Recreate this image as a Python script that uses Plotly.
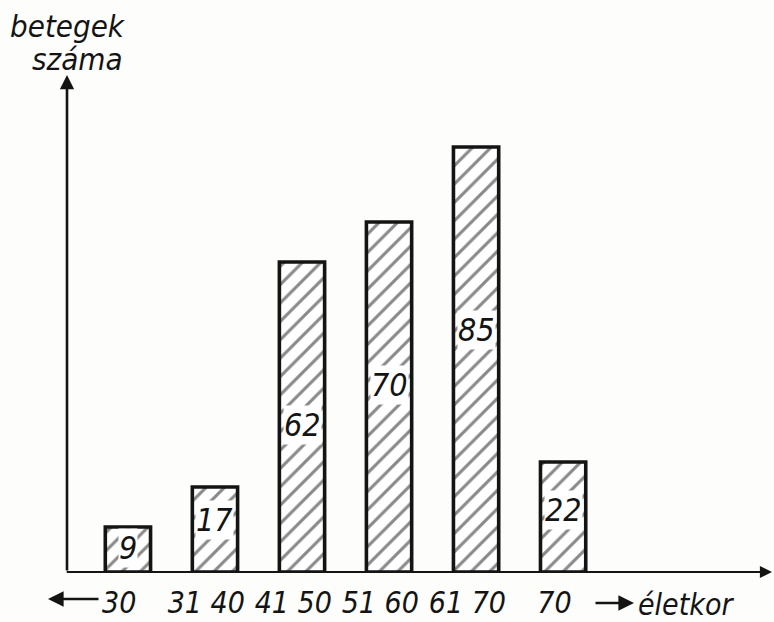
import numpy as np
import plotly.graph_objects as go

# ---- data ----
age_groups = ["-30", "31-40", "41-50", "51-60", "61-70", "70-"]
tick_labels = ["30", "31 40", "41 50", "51 60", "61 70", "70"]
patients = [9, 17, 62, 70, 85, 22]
label_heights = [4.8, 10.4, 29.4, 37.4, 48.4, 12.4]  # where the number sits inside each bar

FONT = "DejaVu Sans Condensed, Liberation Sans Narrow, DejaVu Sans, sans-serif"
INK = "#141414"
PAPER = "#fdfdfb"

W, H = 774, 622
L, R, T, B = 67, 2, 75, 50
pw, ph = W - L - R, H - T - B


def px(xp):
    return (xp - L) / pw


def py(yp):
    return (H - B - yp) / ph


x = np.arange(len(age_groups))

fig = go.Figure()
fig.add_trace(go.Bar(
    x=x,
    y=patients,
    width=0.52,
    marker=dict(
        color="white",
        line=dict(color=INK, width=3.6),
        pattern=dict(shape="/", size=13, solidity=0.24, fgcolor=INK, bgcolor="white"),
    ),
    hovertext=age_groups,
    showlegend=False,
))

annotations = []
# numbers inside bars
for xi, v, ly in zip(x, patients, label_heights):
    annotations.append(dict(
        x=xi, y=ly, xref="x", yref="y", text=str(v), showarrow=False,
        font=dict(family=FONT, size=32, color=INK, style="italic"),
        bgcolor="white", borderpad=0,
    ))

# y axis with arrow
annotations.append(dict(
    x=-0.7, y=99.4, ax=-0.7, ay=0, xref="x", yref="y", axref="x", ayref="y",
    text="", showarrow=True, arrowhead=2, arrowsize=1.1, arrowwidth=2.6, arrowcolor=INK,
))
# x axis with arrow
annotations.append(dict(
    x=7.4, y=0, ax=-0.72, ay=0, xref="x", yref="y", axref="x", ayref="y",
    text="", showarrow=True, arrowhead=2, arrowsize=1.1, arrowwidth=2.2, arrowcolor=INK,
))
# left arrow "<--" before 30
annotations.append(dict(
    x=px(48), y=py(599), ax=52, ay=0, xref="paper", yref="paper",
    axref="pixel", ayref="pixel",
    text="", showarrow=True, arrowhead=2, arrowsize=1.3, arrowwidth=2.4, arrowcolor=INK,
))
# right arrow before "életkor"
annotations.append(dict(
    x=px(634), y=py(603), ax=-40, ay=0, xref="paper", yref="paper",
    axref="pixel", ayref="pixel",
    text="", showarrow=True, arrowhead=2, arrowsize=1.3, arrowwidth=2.4, arrowcolor=INK,
))
# x axis title
annotations.append(dict(
    x=px(636), y=py(604), xref="paper", yref="paper", xanchor="left", yanchor="middle",
    text="életkor", showarrow=False,
    font=dict(family=FONT, size=30, color=INK, style="italic"),
))
# y axis title (two lines)
annotations.append(dict(
    x=px(8), y=py(26), xref="paper", yref="paper", xanchor="left", yanchor="middle",
    text="betegek", showarrow=False,
    font=dict(family=FONT, size=31, color=INK, style="italic"),
))
annotations.append(dict(
    x=px(30), y=py(59), xref="paper", yref="paper", xanchor="left", yanchor="middle",
    text="száma", showarrow=False,
    font=dict(family=FONT, size=31, color=INK, style="italic"),
))

fig.update_layout(
    width=W, height=H,
    margin=dict(l=L, r=R, t=T, b=B),
    paper_bgcolor=PAPER, plot_bgcolor=PAPER,
    xaxis=dict(
        range=[-0.7, 7.4], showgrid=False, zeroline=False, showline=False,
        tickmode="array", tickvals=list(x - 0.1), ticktext=tick_labels,
        ticks="", ticklabelstandoff=10, tickangle=0, automargin=False,
        tickfont=dict(family=FONT, size=30, color=INK, style="italic"),
    ),
    yaxis=dict(
        range=[0, 99.4], showgrid=False, zeroline=False, showline=False,
        showticklabels=False, ticks="", automargin=False,
    ),
    annotations=annotations,
)

fig.write_html(
    "out.html",
    config={"displayModeBar": False},
    post_script="document.body.style.margin='0';document.body.style.padding='0';",
)
